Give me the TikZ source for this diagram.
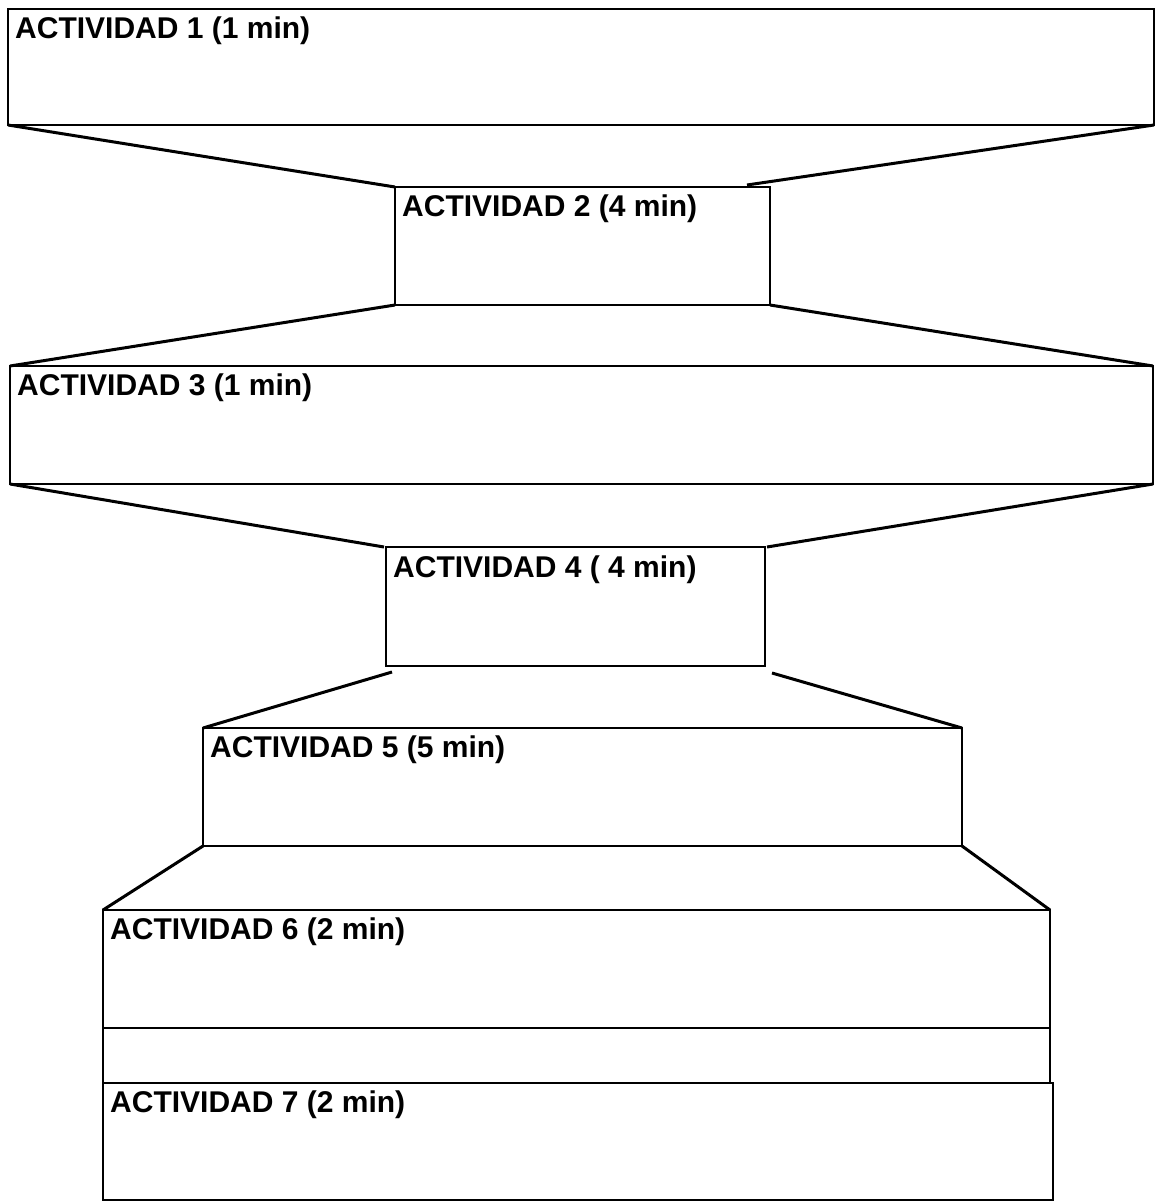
\documentclass[tikz,border=0pt]{standalone}
\usepackage{fontspec}
\setmainfont{Liberation Sans}
\begin{document}
\begin{tikzpicture}[x=1pt,y=1pt,
  actbox/.style={draw=black, line width=2.4pt, rectangle, inner sep=0pt, outer sep=0pt, anchor=north west},
  lbl/.style={anchor=base west, inner sep=0pt, font=\bfseries\fontsize{30}{33}\selectfont},
  conn/.style={draw=black, line width=3pt}]
\useasboundingbox (0,0) rectangle (1157,-1203);
\fill[white] (0,0) rectangle (1157,-1203);
% boxes
\node[actbox, minimum width=1146pt, minimum height=116pt] (b1) at (8,-9) {};
\node[actbox, minimum width=375pt, minimum height=118pt] (b2) at (395,-187) {};
\node[actbox, minimum width=1143pt, minimum height=118pt] (b3) at (10,-366) {};
\node[actbox, minimum width=379pt, minimum height=119pt] (b4) at (386,-547) {};
\node[actbox, minimum width=759pt, minimum height=118pt] (b5) at (203,-728) {};
\node[actbox, minimum width=947pt, minimum height=118pt] (b6) at (103,-910) {};
\node[actbox, minimum width=947pt, minimum height=55pt] (b6x) at (103,-1028) {};
\node[actbox, minimum width=950pt, minimum height=117pt] (b7) at (103,-1083) {};
% labels
\node[lbl] (t1) at ([shift={(7,-29)}]b1.north west) {ACTIVIDAD 1 (1 min)};
\node[lbl] (t2) at ([shift={(7,-29)}]b2.north west) {ACTIVIDAD 2 (4 min)};
\node[lbl] (t3) at ([shift={(7,-29)}]b3.north west) {ACTIVIDAD 3 (1 min)};
\node[lbl] (t4) at ([shift={(7,-30)}]b4.north west) {ACTIVIDAD 4 ( 4 min)};
\node[lbl] (t5) at ([shift={(7,-29)}]b5.north west) {ACTIVIDAD 5 (5 min)};
\node[lbl] (t6) at ([shift={(7,-29)}]b6.north west) {ACTIVIDAD 6 (2 min)};
\node[lbl] (t7) at ([shift={(7,-29)}]b7.north west) {ACTIVIDAD 7 (2 min)};
% connectors
\draw[conn] (b1.south west) -- (b2.north west);
\draw[conn] (b1.south east) -- ([shift={(-23,2)}]b2.north east);
\draw[conn] (b2.south west) -- (b3.north west);
\draw[conn] (b2.south east) -- (b3.north east);
\draw[conn] (b3.south west) -- ([xshift=-2]b4.north west);
\draw[conn] (b3.south east) -- ([xshift=2]b4.north east);
\draw[conn] ([shift={(6,-6)}]b4.south west) -- (b5.north west);
\draw[conn] ([shift={(7,-7)}]b4.south east) -- (b5.north east);
\draw[conn] (b5.south west) -- (b6.north west);
\draw[conn] (b5.south east) -- (b6.north east);
\end{tikzpicture}
\end{document}
